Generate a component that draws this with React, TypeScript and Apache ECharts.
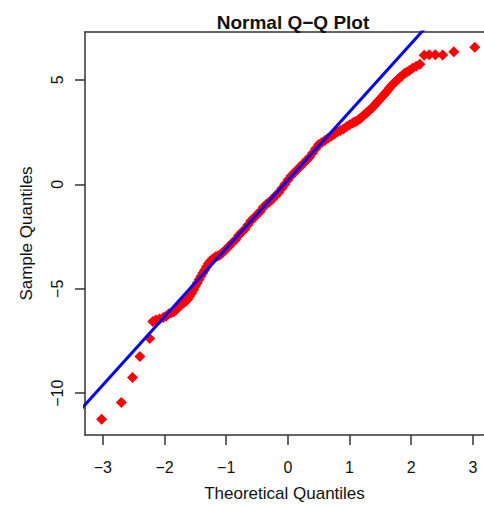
import React, { useEffect, useRef } from "react";
import * as echarts from "echarts";

// [theoretical quantile, sample quantile] pairs
const qqPoints: number[][] = [
  [-3.02, -11.25], [-2.70, -10.44], [-2.52, -9.25], [-2.40, -8.24], [-2.24, -7.38],
  [-2.19, -6.57], [-2.14, -6.50], [-2.08, -6.45], [-2.02, -6.38], [-1.97, -6.30], [-1.93, -6.20],
  [-1.89, -6.15], [-1.85, -6.10], [-1.81, -6.00], [-1.78, -5.90], [-1.74, -5.80], [-1.71, -5.70],
  [-1.68, -5.65], [-1.65, -5.58], [-1.62, -5.48], [-1.59, -5.35], [-1.56, -5.20], [-1.53, -5.05],
  [-1.50, -4.88], [-1.47, -4.72], [-1.44, -4.56], [-1.41, -4.40], [-1.38, -4.24], [-1.35, -4.10],
  [-1.32, -3.95], [-1.29, -3.80], [-1.26, -3.68], [-1.23, -3.60], [-1.20, -3.53], [-1.17, -3.47],
  [-1.14, -3.43], [-1.11, -3.40], [-1.08, -3.33], [-1.05, -3.25],
  [-1.00, -3.10], [-0.95, -2.95], [-0.90, -2.80], [-0.85, -2.65], [-0.80, -2.45], [-0.75, -2.30],
  [-0.70, -2.15], [-0.65, -1.95], [-0.60, -1.75], [-0.55, -1.60], [-0.50, -1.45], [-0.45, -1.30],
  [-0.40, -1.10], [-0.35, -0.95], [-0.30, -0.85], [-0.25, -0.70], [-0.20, -0.55], [-0.15, -0.40],
  [-0.10, -0.20], [-0.05, 0.00], [0.00, 0.20], [0.05, 0.40], [0.10, 0.55], [0.15, 0.70],
  [0.20, 0.85], [0.25, 1.00], [0.30, 1.15], [0.35, 1.30], [0.40, 1.50], [0.45, 1.70],
  [0.50, 1.90], [0.55, 2.00], [0.60, 2.10], [0.65, 2.20], [0.70, 2.30], [0.75, 2.40],
  [0.80, 2.50], [0.85, 2.57], [0.90, 2.65], [0.95, 2.75], [1.00, 2.85], [1.05, 2.93],
  [1.08, 2.98], [1.11, 3.02], [1.14, 3.08], [1.17, 3.15], [1.20, 3.22], [1.23, 3.30],
  [1.26, 3.38], [1.29, 3.45], [1.32, 3.55], [1.35, 3.62], [1.38, 3.70], [1.41, 3.80],
  [1.44, 3.90], [1.47, 4.00], [1.50, 4.10], [1.53, 4.20], [1.56, 4.30], [1.59, 4.40],
  [1.62, 4.50], [1.65, 4.62], [1.68, 4.72], [1.71, 4.82], [1.74, 4.90], [1.78, 5.00],
  [1.81, 5.10], [1.85, 5.20], [1.89, 5.30], [1.93, 5.38], [1.97, 5.45], [2.02, 5.55],
  [2.08, 5.65], [2.14, 5.75],
  [2.21, 6.18], [2.29, 6.20], [2.39, 6.20], [2.51, 6.19], [2.69, 6.35], [3.03, 6.56],
];

// reference line (qqline) endpoints, clipped by the plot area
const qqLine: number[][] = [[-3.5, -11.245], [2.5, 8.375]];

const xTicks = [-3, -2, -1, 0, 1, 2, 3];
const yTicks = [-10, -5, 0, 5];

const X_MIN = -3.29;
const X_MAX = 3.18;
const Y_MIN = -12.0;
const Y_MAX = 7.29;

const FONT = "Liberation Sans";
const fmt = (v: number) => (v < 0 ? "\u2212" + Math.abs(v) : String(v));

export default function App() {
  const ref = useRef<HTMLDivElement>(null);
  useEffect(() => {
    if (!ref.current) return;
    const chart = echarts.init(ref.current, undefined, { renderer: "svg" });
    const axisColor = "#333";
    chart.setOption({
      animation: false,
      title: {
        text: "Normal Q\u2212Q Plot",
        left: 288,
        top: 8,
        textAlign: "center",
        textStyle: { fontFamily: FONT, fontWeight: "bold", fontSize: 19, color: "#111" },
      },
      grid: { left: 85, right: 0, top: 32, bottom: 70 },
      xAxis: [
        {
          type: "value",
          min: X_MIN,
          max: X_MAX,
          position: "bottom",
          axisLine: { show: true, onZero: false, lineStyle: { color: axisColor, width: 1.5 } },
          axisTick: { show: true, length: 10, customValues: xTicks, lineStyle: { color: axisColor, width: 1.5 } },
          axisLabel: {
            customValues: xTicks,
            formatter: fmt,
            margin: 24,
            fontSize: 16,
            fontFamily: FONT,
            color: "#111",
          },
          splitLine: { show: false },
          name: "Theoretical Quantiles",
          nameLocation: "middle",
          nameGap: 50,
          nameTextStyle: { fontFamily: FONT, fontSize: 17, color: "#111" },
        },
        {
          type: "value",
          min: X_MIN,
          max: X_MAX,
          position: "top",
          axisLine: { show: true, onZero: false, lineStyle: { color: axisColor, width: 1.5 } },
          axisTick: { show: false },
          axisLabel: { show: false },
          splitLine: { show: false },
        },
      ],
      yAxis: {
        type: "value",
        min: Y_MIN,
        max: Y_MAX,
        axisLine: { show: true, onZero: false, lineStyle: { color: axisColor, width: 1.5 } },
        axisTick: { show: true, length: 10, customValues: yTicks, lineStyle: { color: axisColor, width: 1.5 } },
        axisLabel: {
          customValues: yTicks,
          formatter: fmt,
          rotate: 90,
          margin: 20,
          fontSize: 16,
          fontFamily: FONT,
          color: "#111",
        },
        splitLine: { show: false },
        name: "Sample Quantiles",
        nameLocation: "middle",
        nameGap: 50,
        nameRotate: 90,
        nameTextStyle: { fontFamily: FONT, fontSize: 17, color: "#111" },
      },
      series: [
        {
          type: "scatter",
          data: qqPoints,
          symbol: "diamond",
          symbolSize: 11,
          itemStyle: { color: "#ff0000", opacity: 1 },
          z: 2,
        },
        {
          type: "line",
          data: qqLine,
          symbol: "none",
          lineStyle: { color: "#0000ff", width: 3 },
          z: 3,
        },
      ],
    });
    return () => chart.dispose();
  }, []);
  return (
    <div
      ref={ref}
      style={{ position: "absolute", left: 0, top: 0, width: 484, height: 507, background: "#fff" }}
    />
  );
}
